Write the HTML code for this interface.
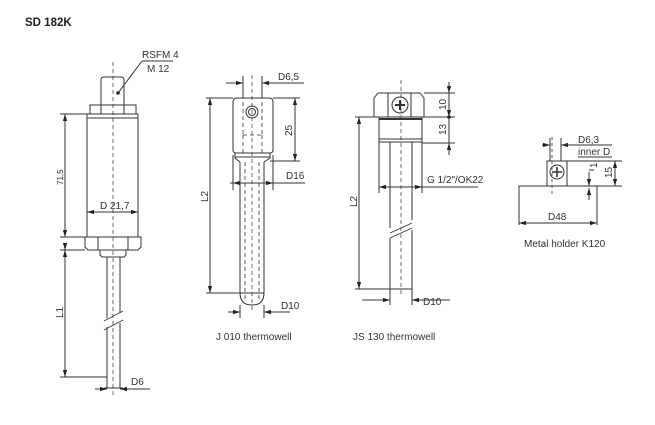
<!DOCTYPE html>
<html><head><meta charset="utf-8"><style>
html,body{margin:0;padding:0;background:#fff;}
svg{display:block;font-family:"Liberation Sans",sans-serif;}
</style></head><body>
<svg width="655" height="425" viewBox="0 0 655 425" xmlns="http://www.w3.org/2000/svg">
<defs>
<marker id="a" viewBox="0 0 10 10" refX="10" refY="5" markerWidth="7" markerHeight="7" orient="auto-start-reverse" markerUnits="userSpaceOnUse"><path d="M0,2 L10,5 L0,8z" fill="#222"/></marker>
</defs>
<text x="25" y="26" font-size="11.5" font-weight="bold" fill="#222">SD 182K</text>

<g stroke="#333" stroke-width="1" fill="none">
<!-- SD 182K sensor -->
<path d="M101,105 V80 Q101,77 104,77 H121 Q124,77 124,80 V105"/>
<rect x="90" y="105" width="46" height="9"/>
<line x1="101" y1="105" x2="101" y2="114"/><line x1="124" y1="105" x2="124" y2="114"/>
<rect x="87" y="114" width="51" height="123"/>
<line x1="87" y1="118" x2="138" y2="118"/>
<path d="M85,237 H141 V247 L138,250 H88 L85,247Z"/>
<line x1="98" y1="237" x2="98" y2="250"/><line x1="128" y1="237" x2="128" y2="250"/>
<path d="M100,250 H126 V255 L124,257 H102 L100,255Z"/>
<path d="M107,257 V318 M120,257 V313 M107,327 V388 M120,323 V388 M104,388 H123"/>
<path d="M104,321 L123,311 M104,330 L123,320" stroke-width="0.8"/>
<line x1="113" y1="62" x2="113" y2="395" stroke-dasharray="4,3" stroke-width="0.7"/>
<!-- RSFM leader -->
<path d="M142,61 H173 M142,61 L118,93"/>
<!-- 71,5 dim -->
<path d="M60,114 H87 M60,237 H85 M60,250 H85 M60,377 H107"/>
<line x1="65" y1="114" x2="65" y2="237" marker-start="url(#a)" marker-end="url(#a)"/>
<line x1="65" y1="250" x2="65" y2="377" marker-start="url(#a)" marker-end="url(#a)"/>
<line x1="65" y1="245" x2="65" y2="250" marker-end="url(#a)"/>
<line x1="87" y1="212" x2="138" y2="212" marker-start="url(#a)" marker-end="url(#a)"/>
<line x1="95" y1="389" x2="107" y2="389" marker-end="url(#a)"/>
<line x1="150" y1="389" x2="120" y2="389" marker-end="url(#a)"/>

<!-- J 010 -->
<path d="M233,150 V102 Q233,98 237,98 H269 Q273,98 273,102 V150 Q273,153 270,153 H236 Q233,153 233,150Z"/>
<path d="M235,153 V158 L240,162 M270,153 V158 L264,162 M235,157 H270"/>
<path d="M240,162 V293 M264,162 V293 M240,293 Q240,305 252,305 Q264,305 264,293 M240,293 H264"/>
<circle cx="252" cy="112" r="6"/><circle cx="252" cy="112" r="3.5"/>
<path d="M243,102 V135 M262,102 V135 M243,135 H262 M245,162 V300 M259,162 V300 M243,135 V153 M262,135 V153" stroke-dasharray="4,3" stroke-width="0.8"/>
<line x1="252" y1="75" x2="252" y2="312" stroke-dasharray="4,3" stroke-width="0.7"/>
<path d="M243,76 V98 M262,76 V98 M206,98 H233 M206,293 H240 M273,98 H300 M270,161 H300 M233,155 V190 M273,155 V190 M240,305 V318 M264,305 V318"/>
<line x1="226" y1="83" x2="243" y2="83" marker-end="url(#a)"/>
<line x1="304" y1="83" x2="262" y2="83" marker-end="url(#a)"/>
<line x1="210" y1="98" x2="210" y2="293" marker-start="url(#a)" marker-end="url(#a)"/>
<line x1="295" y1="98" x2="295" y2="161" marker-start="url(#a)" marker-end="url(#a)"/>
<line x1="230" y1="183" x2="305" y2="183"/>
<line x1="233" y1="183" x2="273" y2="183" marker-start="url(#a)" marker-end="url(#a)"/>
<line x1="228" y1="312" x2="240" y2="312" marker-end="url(#a)"/>
<line x1="290" y1="312" x2="264" y2="312" marker-end="url(#a)"/>

<!-- JS 130 -->
<path d="M374,117 V98 L378,93 H420 L424,98 V117Z"/>
<line x1="388" y1="93" x2="388" y2="117"/><line x1="411" y1="93" x2="411" y2="117"/>
<rect x="379" y="117" width="43" height="25"/>
<line x1="379" y1="119" x2="422" y2="119" stroke-width="2"/>
<line x1="379" y1="139" x2="422" y2="139"/>
<circle cx="400" cy="105" r="8"/>
<path d="M395,105 H405 M400,100 V110" stroke-width="2"/>
<path d="M390,142 V228 M412,142 V220 M390,238 V289 M412,230 V289 M390,289 H412"/>
<path d="M390,233 L412,223 M390,238 L412,228" stroke-width="0.8"/>
<line x1="401" y1="80" x2="401" y2="296" stroke-dasharray="4,3" stroke-width="0.7"/>
<path d="M355,117 H379 M355,289 H390 M424,93 H455 M422,117 H455 M422,143 H455 M379,142 V193 M422,142 V193 M390,289 V305 M412,289 V305"/>
<line x1="359" y1="117" x2="359" y2="289" marker-start="url(#a)" marker-end="url(#a)"/>
<line x1="449" y1="82" x2="449" y2="93" marker-end="url(#a)"/>
<line x1="449" y1="93" x2="449" y2="155"/>
<line x1="449" y1="155" x2="449" y2="143" marker-end="url(#a)"/>
<line x1="449" y1="110" x2="449" y2="117" marker-end="url(#a)"/>
<line x1="379" y1="187" x2="422" y2="187" marker-start="url(#a)" marker-end="url(#a)"/>
<line x1="422" y1="187" x2="478" y2="187"/>
<line x1="362" y1="300" x2="390" y2="300" marker-end="url(#a)"/>
<line x1="450" y1="300" x2="412" y2="300" marker-end="url(#a)"/>

<!-- Metal holder -->
<rect x="547" y="161" width="20" height="25"/>
<circle cx="557" cy="172" r="7"/>
<path d="M552,172 H562 M557,167 V177" stroke-width="1.6"/>
<path d="M519,225 V186 H597 V225"/>
<line x1="552" y1="137" x2="552" y2="195" stroke-dasharray="3,3" stroke-width="0.8"/>
<path d="M550,138 V161 M561,138 V161 M567,161 H622 M597,186 H622"/>
<line x1="542" y1="145" x2="550" y2="145" marker-end="url(#a)"/>
<line x1="575" y1="145" x2="561" y2="145" marker-end="url(#a)"/>
<line x1="561" y1="145" x2="612" y2="145"/>
<line x1="578" y1="157" x2="612" y2="157"/>
<line x1="615" y1="161" x2="615" y2="186" marker-start="url(#a)" marker-end="url(#a)"/>
<line x1="589" y1="172" x2="589" y2="186" marker-end="url(#a)"/>
<line x1="589" y1="200" x2="589" y2="188" marker-end="url(#a)"/>
<line x1="589" y1="170" x2="594" y2="170"/>
<line x1="519" y1="223" x2="597" y2="223" marker-start="url(#a)" marker-end="url(#a)"/>
</g>
<circle cx="118" cy="93" r="1.8" fill="#222"/>
<circle cx="449" cy="117" r="1.8" fill="#222"/>

<g font-size="10" fill="#333">
<text x="142" y="58">RSFM 4</text>
<text x="147" y="72">M 12</text>
<text x="100" y="209">D 21,7</text>
<text x="131" y="385">D6</text>
<text x="278" y="80">D6,5</text>
<text x="286" y="179">D16</text>
<text x="281" y="309">D10</text>
<text x="216" y="340">J 010 thermowell</text>
<text x="427" y="183">G 1/2"/OK22</text>
<text x="423" y="305">D10</text>
<text x="353" y="340">JS 130 thermowell</text>
<text x="578" y="143">D6,3</text>
<text x="578" y="155">inner D</text>
<text x="548" y="220">D48</text>
<text x="524" y="247">Metal holder K120</text>
<text transform="translate(63,185) rotate(-90)" font-size="8">71,5</text>
<text transform="translate(63,318) rotate(-90)">L1</text>
<text transform="translate(208,202) rotate(-90)">L2</text>
<text transform="translate(292,136) rotate(-90)">25</text>
<text transform="translate(357,207) rotate(-90)">L2</text>
<text transform="translate(446,110) rotate(-90)">10</text>
<text transform="translate(446,135) rotate(-90)">13</text>
<text transform="translate(612,178) rotate(-90)">15</text>
<text transform="translate(597,168) rotate(-90)">1</text>
</g>
</svg>
</body></html>
